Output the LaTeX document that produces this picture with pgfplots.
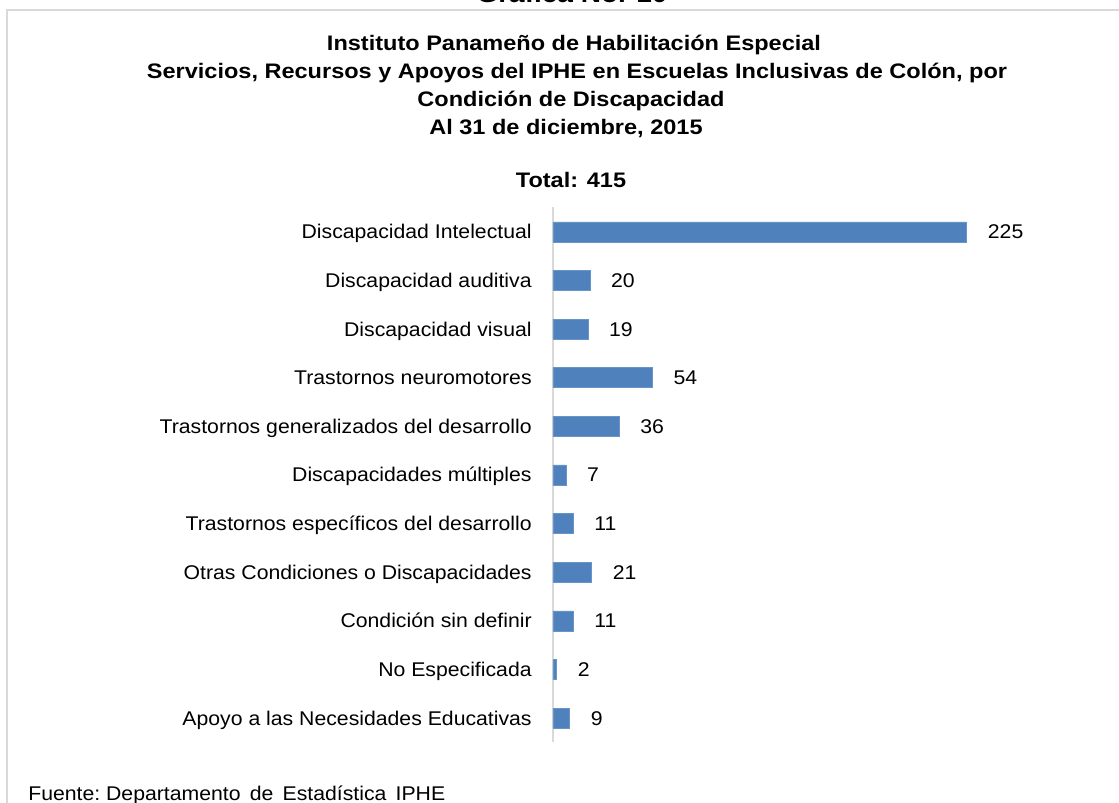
\documentclass[border=0pt]{standalone}
\usepackage{pgfplots}
\pgfplotsset{compat=1.18}
\usepackage{fontspec}
\setmainfont[FakeStretch=1.07]{Liberation Sans}
\newfontfamily\titlefont[FakeStretch=1.12]{Liberation Sans}

\definecolor{barblue}{HTML}{4F81BD}
\definecolor{frame}{HTML}{D9D9D9}

% 1 px of the reference = 0.6pt
\newcommand\lblfont{\fontsize{11.9pt}{14pt}\selectfont}
\newcommand\ttlfont{\titlefont\bfseries\fontsize{12.6pt}{16pt}\selectfont}

\begin{document}
\begin{tikzpicture}[x=0.6pt, y=-0.6pt]
    \useasboundingbox (0,0) rectangle (1119,803);
    \clip (0,0) rectangle (1119,803);

    % outer frame
    \draw[frame, line width=1.1pt] (7,900) -- (7,10) -- (1200,10);

    % heading
    \node[anchor=base, font=\titlefont\bfseries\fontsize{15pt}{18pt}\selectfont] at (572,3) {Gráfica No. 10};
    \node[anchor=base, font=\ttlfont] at (574,51) {Instituto Panameño de Habilitación Especial};
    \node[anchor=base, font=\ttlfont] at (577,79) {Servicios, Recursos y Apoyos del IPHE en Escuelas Inclusivas de Colón, por};
    \node[anchor=base, font=\ttlfont] at (571,107) {Condición de Discapacidad};
    \node[anchor=base, font=\ttlfont] at (566,135) {Al 31 de diciembre, 2015};
    \node[anchor=base, font=\ttlfont] at (571,188) {Total: 415};

    \begin{axis}[
        at={(331.8pt,-445.5pt)}, anchor=south west,
        scale only axis,
        width=330.96pt, height=321pt,
        xbar, bar width=12pt,
        xmin=0, xmax=300,
        ymin=-0.5, ymax=10.5,
        axis x line=none,
        axis y line*=left,
        y axis line style={frame, line width=0.8pt},
        xtick=\empty,
        ytick={0,...,10},
        yticklabels={
            Apoyo a las Necesidades Educativas,
            No Especificada,
            Condición sin definir,
            Otras Condiciones o Discapacidades,
            Trastornos específicos del desarrollo,
            Discapacidades múltiples,
            Trastornos generalizados del desarrollo,
            Trastornos neuromotores,
            Discapacidad visual,
            Discapacidad auditiva,
            Discapacidad Intelectual},
        major tick length=0pt,
        yticklabel style={font=\lblfont, anchor=east, inner sep=0pt,
            xshift=-12.6pt, text height=8.4pt, text depth=0pt},
        /pgf/number format/assume math mode=true,
        nodes near coords,
        nodes near coords align={horizontal},
        every node near coord/.append style={font=\lblfont, anchor=west,
            inner sep=0pt, xshift=12.6pt, text height=8.4pt, text depth=0pt, black},
        clip=false,
    ]
        \addplot[fill=barblue, draw=barblue!85!white, line width=0.3pt] coordinates {
            (225,10)
            (20,9)
            (19,8)
            (54,7)
            (36,6)
            (7,5)
            (11,4)
            (21,3)
            (11,2)
            (2,1)
            (9,0)
        };
    \end{axis}

    % source
    \node[anchor=base west, inner sep=0pt, font=\lblfont] at (28,800) {Fuente:\ Departamento\, de\, Estadística\, IPHE};
\end{tikzpicture}
\end{document}
